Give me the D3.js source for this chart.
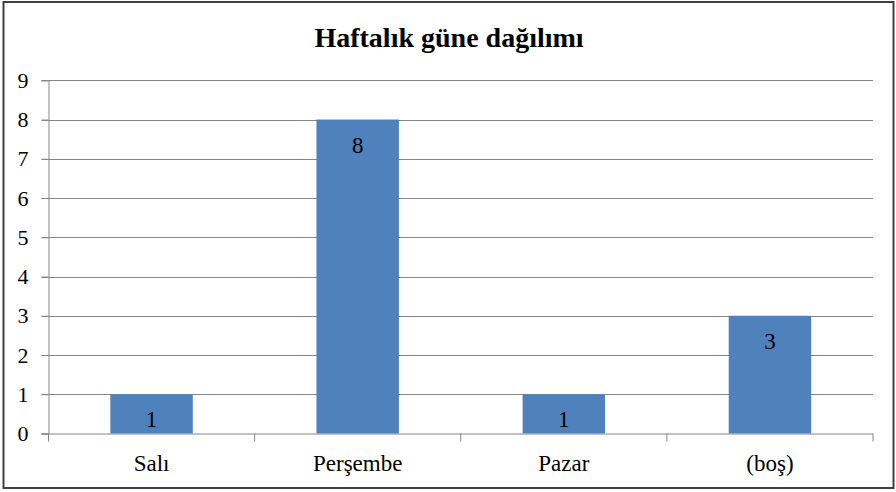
<!DOCTYPE html>
<html>
<head>
<meta charset="utf-8">
<script src="https://cdn.jsdelivr.net/npm/d3@7"></script>
<style>
  html, body { margin: 0; padding: 0; background: #fff; }
  svg { display: block; }
  text { font-family: "Liberation Serif", "Times New Roman", serif; fill: #000; }
</style>
</head>
<body>
<svg id="chart" width="896" height="492"></svg>
<script>
const title = "Haftalık güne dağılımı";
const categories = ["Salı", "Perşembe", "Pazar", "(boş)"];
const values = [1, 8, 1, 3];
const yTicks = [0, 1, 2, 3, 4, 5, 6, 7, 8, 9];

const FONT = '"Liberation Serif", "Times New Roman", serif';
const W = 896, H = 492;
const margin = { left: 48.5, right: 23, top: 80.3, bottom: 58.5 };
const svg = d3.select("#chart");

svg.append("rect")
  .attr("x", 3.5).attr("y", 2).attr("width", 890).attr("height", 486)
  .attr("fill", "#fff").attr("stroke", "#404040").attr("stroke-width", 2);

const x = d3.scaleBand().domain(categories)
  .range([margin.left, W - margin.right]).paddingInner(0).paddingOuter(0);
const y = d3.scaleLinear().domain([0, 9]).range([H - margin.bottom, margin.top]);

// gridlines
svg.append("g").selectAll("line").data(yTicks.filter(d => d > 0)).join("line")
  .attr("x1", margin.left - 7).attr("x2", W - margin.right)
  .attr("y1", d => Math.round(y(d)) + 0.5).attr("y2", d => Math.round(y(d)) + 0.5)
  .attr("stroke", "#868686").attr("stroke-width", 1);

// y axis
const yAxis = d3.axisLeft(y).tickValues(yTicks).tickSize(7).tickPadding(13).tickFormat(d3.format("d"));
const gy = svg.append("g").attr("transform", `translate(${margin.left},0)`).call(yAxis)
  .attr("font-family", FONT);
gy.select(".domain").attr("stroke", "#868686");
gy.selectAll(".tick line").attr("stroke", "#868686");
gy.selectAll(".tick text").attr("font-family", FONT).style("font-size", "22px").attr("fill", "#000");

// bars
const barW = x.bandwidth() / 2.5;
svg.append("g").selectAll("rect").data(values).join("rect")
  .attr("x", (d, i) => x(categories[i]) + (x.bandwidth() - barW) / 2)
  .attr("y", d => y(d))
  .attr("width", barW)
  .attr("height", d => y(0) - y(d))
  .attr("fill", "#4F81BD");

// x axis
const gx = svg.append("g").attr("transform", `translate(0,${y(0)})`);
gx.append("line").attr("x1", margin.left - 7).attr("x2", W - margin.right)
  .attr("y1", 0.5).attr("y2", 0.5).attr("stroke", "#868686");
const bounds = categories.map(c => x(c)).concat([x(categories[categories.length - 1]) + x.bandwidth()]);
gx.selectAll("line.tk").data(bounds).join("line").attr("class", "tk")
  .attr("x1", d => d).attr("x2", d => d).attr("y1", 0).attr("y2", 8)
  .attr("stroke", "#868686");
gx.selectAll("text").data(categories).join("text")
  .attr("x", d => x(d) + x.bandwidth() / 2)
  .attr("y", 37)
  .attr("text-anchor", "middle")
  .attr("font-family", FONT)
  .style("font-size", "23px")
  .text(d => d);

// data labels
svg.append("g").selectAll("text").data(values).join("text")
  .attr("x", (d, i) => x(categories[i]) + x.bandwidth() / 2)
  .attr("y", d => y(d) + 33)
  .attr("text-anchor", "middle")
  .attr("font-family", FONT)
  .style("font-size", "23px")
  .text(d => d);

// title
svg.append("text").attr("x", 449).attr("y", 47).attr("text-anchor", "middle")
  .attr("font-family", FONT)
  .style("font-size", "28px").style("font-weight", "bold").text(title);
</script>
</body>
</html>
